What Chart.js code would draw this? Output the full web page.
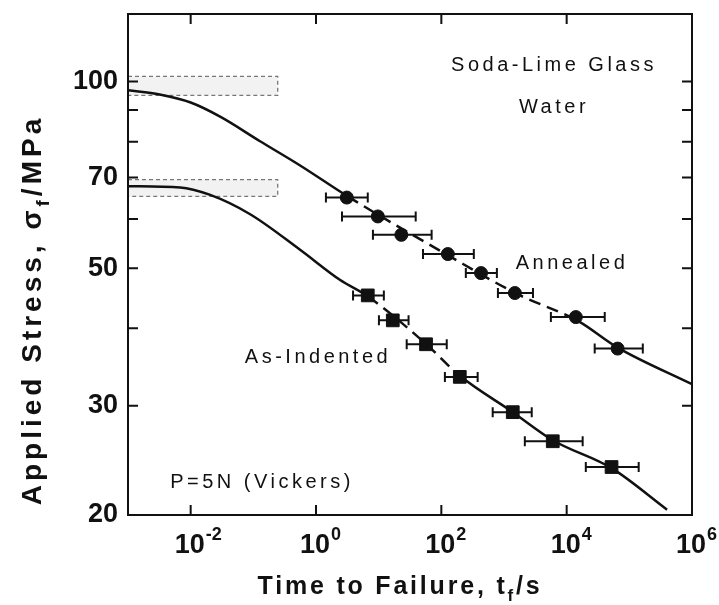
<!DOCTYPE html>
<html>
<head>
<meta charset="utf-8">
<script src="https://cdn.jsdelivr.net/npm/chart.js@4.4.0/dist/chart.umd.min.js"></script>
<style>
  html, body { margin: 0; padding: 0; background: #fff; }
</style>
</head>
<body>
<canvas id="chart" width="719" height="605"></canvas>
<script>
/* ================================
   DATA
   ================================ */

// annealed specimens: time to failure (s), stress (MPa), error bar range on time
const annTime    = [3.1, 9.7, 23, 127, 430, 1490, 14000, 65000];
const annStress  = [65.0, 60.6, 56.6, 52.7, 49.1, 45.6, 41.7, 37.1];
const annTimeLo  = [1.44, 2.6, 8.1, 51, 246, 800, 5600, 28000];
const annTimeHi  = [6.7, 39, 70, 330, 770, 2900, 40500, 164000];

// as-indented specimens
const indTime    = [6.7, 16.8, 57, 197, 1380, 6000, 52000];
const indStress  = [45.2, 41.2, 37.7, 33.4, 29.3, 26.3, 23.9];
const indTimeLo  = [3.9, 10.1, 28, 114, 660, 2150, 20200];
const indTimeHi  = [12.1, 30, 122, 380, 2770, 18000, 141000];

// fitted curves
const annCurveT = [0.001, 0.0032, 0.01, 0.03, 0.126, 0.55, 3.2, 126, 1580, 15800, 63000, 1000000];
const annCurveS = [96.8, 95.3, 92.5, 87.7, 80.2, 73.3, 65.3, 52.5, 45.5, 41.0, 37.3, 32.5];
const indCurveT = [0.001, 0.0068, 0.02, 0.089, 0.55, 2.4, 6.8, 56, 200, 1380, 6000, 52000, 400000];
const indCurveS = [67.8, 67.5, 65.7, 61.1, 53.6, 47.9, 45.0, 37.8, 33.5, 29.3, 26.4, 23.8, 20.4];

// inert strength bands (shaded boxes at the left)
const bandTime   = [0.001, 0.245];
const annBand    = [95.0, 101.9];
const indBand    = [65.3, 69.5];

// axes
const xTickVals  = [0.01, 1, 100, 10000, 1000000];
const yTickVals  = [20, 30, 40, 50, 60, 70, 80, 90, 100];
const yLabelVals = [20, 30, 50, 70, 100];

const toPoints = (xs, ys) => xs.map((x, i) => ({ x: x, y: ys[i] }));

const FONT = "'Liberation Sans', Arial, sans-serif";

/* ================================
   DRAWING HELPERS
   ================================ */

// text with subscript pieces and letter spacing, centred on (cx, cy)
function drawSubText(ctx, parts, cx, cy, size, spacing) {
  const big = "bold " + size + "px " + FONT;
  const small = "bold " + Math.round(size * 0.68) + "px " + FONT;
  ctx.letterSpacing = "0px";
  const widths = parts.map(p => {
    ctx.font = p.sub ? small : big;
    return ctx.measureText(p.t).width + spacing * p.t.length;
  });
  const total = widths.reduce((a, b) => a + b, 0);
  let x = cx - total / 2;
  ctx.textBaseline = "middle";
  ctx.textAlign = "left";
  ctx.letterSpacing = spacing + "px";
  parts.forEach((p, i) => {
    ctx.font = p.sub ? small : big;
    ctx.fillText(p.t, x, p.sub ? cy + size * 0.38 : cy);
    x += widths[i];
  });
  ctx.letterSpacing = "0px";
}

const figurePlugin = {
  id: "figure",
  beforeDatasetsDraw(chart) {
    const { ctx, scales: { x, y } } = chart;
    ctx.save();
    [annBand, indBand].forEach(b => {
      const x0 = x.getPixelForValue(bandTime[0]);
      const x1 = x.getPixelForValue(bandTime[1]);
      const y0 = y.getPixelForValue(b[1]);
      const y1 = y.getPixelForValue(b[0]);
      ctx.fillStyle = "rgba(0,0,0,0.05)";
      ctx.fillRect(x0, y0, x1 - x0, y1 - y0);
      ctx.strokeStyle = "#777";
      ctx.lineWidth = 1.3;
      ctx.setLineDash([4, 3]);
      ctx.strokeRect(x0, y0, x1 - x0, y1 - y0);
    });
    ctx.restore();
  },
  afterDatasetsDraw(chart) {
    const { ctx, scales: { x, y } } = chart;
    ctx.save();
    ctx.strokeStyle = "#111";
    ctx.lineWidth = 2;
    const bars = (ts, ss, lo, hi) => {
      ts.forEach((t, i) => {
        const py = y.getPixelForValue(ss[i]);
        const a = x.getPixelForValue(lo[i]);
        const b = x.getPixelForValue(hi[i]);
        ctx.beginPath();
        ctx.moveTo(a, py); ctx.lineTo(b, py);
        ctx.moveTo(a, py - 5); ctx.lineTo(a, py + 5);
        ctx.moveTo(b, py - 5); ctx.lineTo(b, py + 5);
        ctx.stroke();
      });
    };
    bars(annTime, annStress, annTimeLo, annTimeHi);
    bars(indTime, indStress, indTimeLo, indTimeHi);
    ctx.restore();
  },
  afterDraw(chart) {
    const { ctx, chartArea: a, scales: { x, y } } = chart;
    ctx.save();
    ctx.strokeStyle = "#111";
    ctx.lineWidth = 2;
    ctx.strokeRect(a.left, a.top, a.right - a.left, a.bottom - a.top);

    // inward ticks on all four sides
    ctx.beginPath();
    xTickVals.slice(0, -1).forEach(v => {
      const px = x.getPixelForValue(v);
      ctx.moveTo(px, a.bottom); ctx.lineTo(px, a.bottom - 10);
      ctx.moveTo(px, a.top); ctx.lineTo(px, a.top + 10);
    });
    yTickVals.slice(1).forEach(v => {
      const py = y.getPixelForValue(v);
      ctx.moveTo(a.left, py); ctx.lineTo(a.left + 10, py);
      ctx.moveTo(a.right, py); ctx.lineTo(a.right - 10, py);
    });
    ctx.stroke();

    // x tick labels: 10 with a raised exponent
    ctx.fillStyle = "#111";
    ctx.textBaseline = "middle";
    xTickVals.forEach(v => {
      const px = x.getPixelForValue(v) - 1;
      ctx.font = "bold 27px " + FONT;
      ctx.textAlign = "center";
      ctx.fillText("10", px, a.bottom + 31);
      const half = ctx.measureText("10").width / 2;
      ctx.font = "bold 18px " + FONT;
      ctx.textAlign = "left";
      ctx.fillText(String(Math.round(Math.log10(v))), px + half + 1, a.bottom + 20);
    });

    // annotations
    ctx.font = "20px " + FONT;
    ctx.letterSpacing = "3.5px";
    ctx.textAlign = "center";
    ctx.textBaseline = "middle";
    ctx.fillText("Soda-Lime Glass", 554, 65);
    ctx.fillText("Water", 554, 107);
    ctx.fillText("Annealed", 572, 263);
    ctx.fillText("As-Indented", 318, 357);
    ctx.fillText("P=5N (Vickers)", 262, 482);
    ctx.letterSpacing = "0px";

    // axis titles
    drawSubText(ctx, [{ t: "Time to Failure, t" }, { t: "f", sub: true }, { t: "/s" }], 400, 587, 25, 2.8);
    ctx.translate(33, 310);
    ctx.rotate(-Math.PI / 2);
    drawSubText(ctx, [{ t: "Applied Stress, \u03C3" }, { t: "f", sub: true }, { t: "/MPa" }], 0, 0, 28, 4);
    ctx.restore();
  }
};

/* ================================
   CHART
   ================================ */

const dashRange = (lo, hi) => (c) =>
  (c.p0.parsed.x >= lo && c.p1.parsed.x <= hi) ? [12, 7] : undefined;

new Chart(document.getElementById("chart").getContext("2d"), {
  type: "scatter",
  data: {
    datasets: [
      {
        label: "Annealed fit",
        data: toPoints(annCurveT, annCurveS),
        showLine: true,
        borderColor: "#111",
        borderWidth: 2.5,
        pointRadius: 0,
        cubicInterpolationMode: "monotone",
        segment: { borderDash: dashRange(3, 16000) }
      },
      {
        label: "As-Indented fit",
        data: toPoints(indCurveT, indCurveS),
        showLine: true,
        borderColor: "#111",
        borderWidth: 2.5,
        pointRadius: 0,
        cubicInterpolationMode: "monotone",
        segment: { borderDash: dashRange(6, 210) }
      },
      {
        label: "Annealed",
        data: toPoints(annTime, annStress),
        pointStyle: "circle",
        pointRadius: 6.5,
        backgroundColor: "#111",
        borderColor: "#111"
      },
      {
        label: "As-Indented",
        data: toPoints(indTime, indStress),
        pointStyle: "rect",
        pointRadius: 9,
        backgroundColor: "#111",
        borderColor: "#111"
      }
    ]
  },
  options: {
    responsive: false,
    animation: false,
    devicePixelRatio: 1,
    layout: { padding: { top: 14, right: 27, left: 0, bottom: 0 } },
    plugins: {
      legend: { display: false },
      tooltip: { enabled: false }
    },
    scales: {
      x: {
        type: "logarithmic",
        min: 0.001,
        max: 1000000,
        border: { display: false },
        grid: { display: false, drawTicks: false },
        afterBuildTicks: (axis) => { axis.ticks = xTickVals.map(v => ({ value: v })); },
        afterFit: (axis) => { axis.height = 90; axis.paddingLeft = 0; axis.paddingRight = 0; },
        ticks: { display: false }
      },
      y: {
        type: "logarithmic",
        min: 20,
        max: 128.5,
        border: { display: false },
        grid: { display: false, drawTicks: false },
        afterBuildTicks: (axis) => { axis.ticks = yTickVals.map(v => ({ value: v })); },
        afterFit: (axis) => { axis.width = 128; axis.paddingTop = 0; axis.paddingBottom = 0; },
        ticks: {
          autoSkip: false,
          padding: 10,
          color: "#111",
          font: { family: FONT, size: 27, weight: "bold" },
          callback: (v) => yLabelVals.includes(v) ? String(v) : ""
        }
      }
    }
  },
  plugins: [figurePlugin]
});
</script>
</body>
</html>
